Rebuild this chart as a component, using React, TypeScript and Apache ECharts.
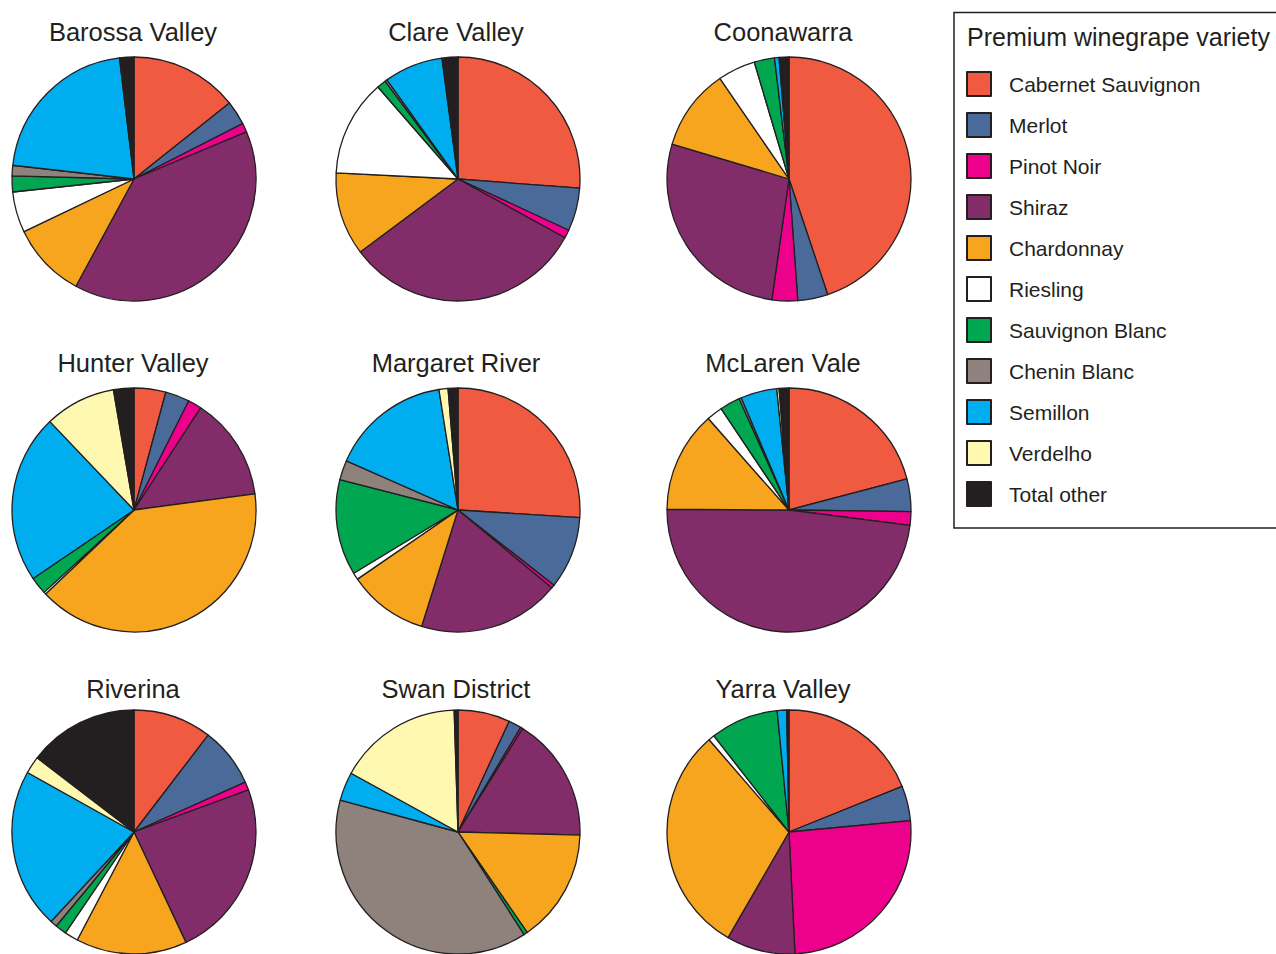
import React, { useEffect, useRef } from "react";
import * as echarts from "echarts";

const varieties = [
  "Cabernet Sauvignon",
  "Merlot",
  "Pinot Noir",
  "Shiraz",
  "Chardonnay",
  "Riesling",
  "Sauvignon Blanc",
  "Chenin Blanc",
  "Semillon",
  "Verdelho",
  "Total other",
];

const varietyColors = [
  "#f05a41",
  "#4a6a9a",
  "#ec008c",
  "#822d69",
  "#f7a51e",
  "#ffffff",
  "#00a650",
  "#8f817c",
  "#00aeef",
  "#fff8b0",
  "#231f20",
];

const regions = [
  "Barossa Valley",
  "Clare Valley",
  "Coonawarra",
  "Hunter Valley",
  "Margaret River",
  "McLaren Vale",
  "Riverina",
  "Swan District",
  "Yarra Valley",
];

// shares (%) in variety order
const barossa = [14.3, 3.2, 1.2, 39.2, 10.0, 5.4, 2.1, 1.4, 21.3, 0, 1.9];
const clare = [26.2, 5.7, 1.1, 31.8, 11.0, 12.8, 1.2, 0.3, 7.8, 0, 2.1];
const coonawarra = [44.9, 4.0, 3.4, 27.4, 10.8, 5.0, 2.7, 0, 0.6, 0, 1.3];
const hunter = [4.2, 3.2, 1.8, 13.7, 40.0, 0.3, 2.3, 0, 22.4, 9.4, 2.7];
const margaret = [26.0, 9.6, 0.45, 18.8, 10.6, 0.9, 12.7, 2.6, 15.9, 1.2, 1.3];
const mclaren = [20.9, 4.3, 1.8, 48.1, 13.4, 2.1, 2.7, 0.3, 4.8, 0.3, 1.3];
const riverina = [10.4, 7.9, 1.1, 23.6, 14.7, 1.8, 1.5, 0.9, 21.2, 2.3, 14.6];
const swan = [6.9, 1.7, 0.3, 16.5, 15.0, 0, 0.5, 38.3, 3.8, 16.5, 0.5];
const yarra = [18.9, 4.6, 25.7, 9.1, 30.3, 0.8, 9.0, 0, 1.25, 0, 0.3];

const regionValues = [barossa, clare, coonawarra, hunter, margaret, mclaren, riverina, swan, yarra];

const legendTitle = "Premium winegrape variety";

const FONT = "'Liberation Sans', Arial, Helvetica, sans-serif";
const INK = "#231f20";

export default function App() {
  const ref = useRef<HTMLDivElement>(null);

  useEffect(() => {
    if (!ref.current) return;
    const chart = echarts.init(ref.current, undefined, { renderer: "svg" });

    const colX = [134, 458, 789];
    const rowY = [179, 510, 832];
    const titleX = [133, 456, 783];
    const titleY = [32, 363, 689];
    const radius = 122;

    const series: any[] = regionValues.map((vals, i) => {
      const cx = colX[i % 3];
      const cy = rowY[Math.floor(i / 3)];
      return {
        type: "pie",
        name: regions[i],
        center: [cx, cy],
        radius: radius,
        startAngle: 90,
        clockwise: true,
        silent: true,
        label: { show: false },
        labelLine: { show: false },
        emphasis: { disabled: true },
        itemStyle: { borderColor: INK, borderWidth: 1.3 },
        data: vals
          .map((v, k) => ({
            name: varieties[k],
            value: v,
            itemStyle: { color: varietyColors[k] },
          }))
          .filter((d) => d.value > 0),
      };
    });

    const graphics: any[] = regions.map((r, i) => ({
      type: "text",
      x: titleX[i % 3],
      y: titleY[Math.floor(i / 3)],
      style: {
        text: r,
        fontSize: 25.5,
        fontFamily: FONT,
        fill: INK,
        align: "center",
        verticalAlign: "middle",
        textAlign: "center",
        textVerticalAlign: "middle",
      },
    }));

    graphics.push({
      type: "rect",
      shape: { x: 954, y: 12.5, width: 340, height: 515.5 },
      style: { fill: "none", stroke: INK, lineWidth: 1.5 },
    });
    graphics.push({
      type: "text",
      x: 967,
      y: 37,
      style: {
        text: legendTitle,
        fontSize: 25,
        fontFamily: FONT,
        fill: INK,
        align: "left",
        verticalAlign: "middle",
        textAlign: "left",
        textVerticalAlign: "middle",
      },
    });

    chart.setOption({
      animation: false,
      backgroundColor: "#ffffff",
      legend: {
        show: true,
        orient: "vertical",
        left: 966,
        top: 71,
        padding: 0,
        itemWidth: 24,
        itemHeight: 24,
        itemGap: 15,
        icon: "rect",
        selectedMode: false,
        data: varieties,
        textStyle: {
          fontSize: 21,
          fontFamily: FONT,
          color: INK,
          padding: [0, 0, 0, 13],
        },
      },
      graphic: graphics,
      series,
    });

    return () => chart.dispose();
  }, []);

  return (
    <div
      ref={ref}
      style={{ position: "absolute", left: 0, top: 0, width: 1276, height: 954 }}
    />
  );
}
